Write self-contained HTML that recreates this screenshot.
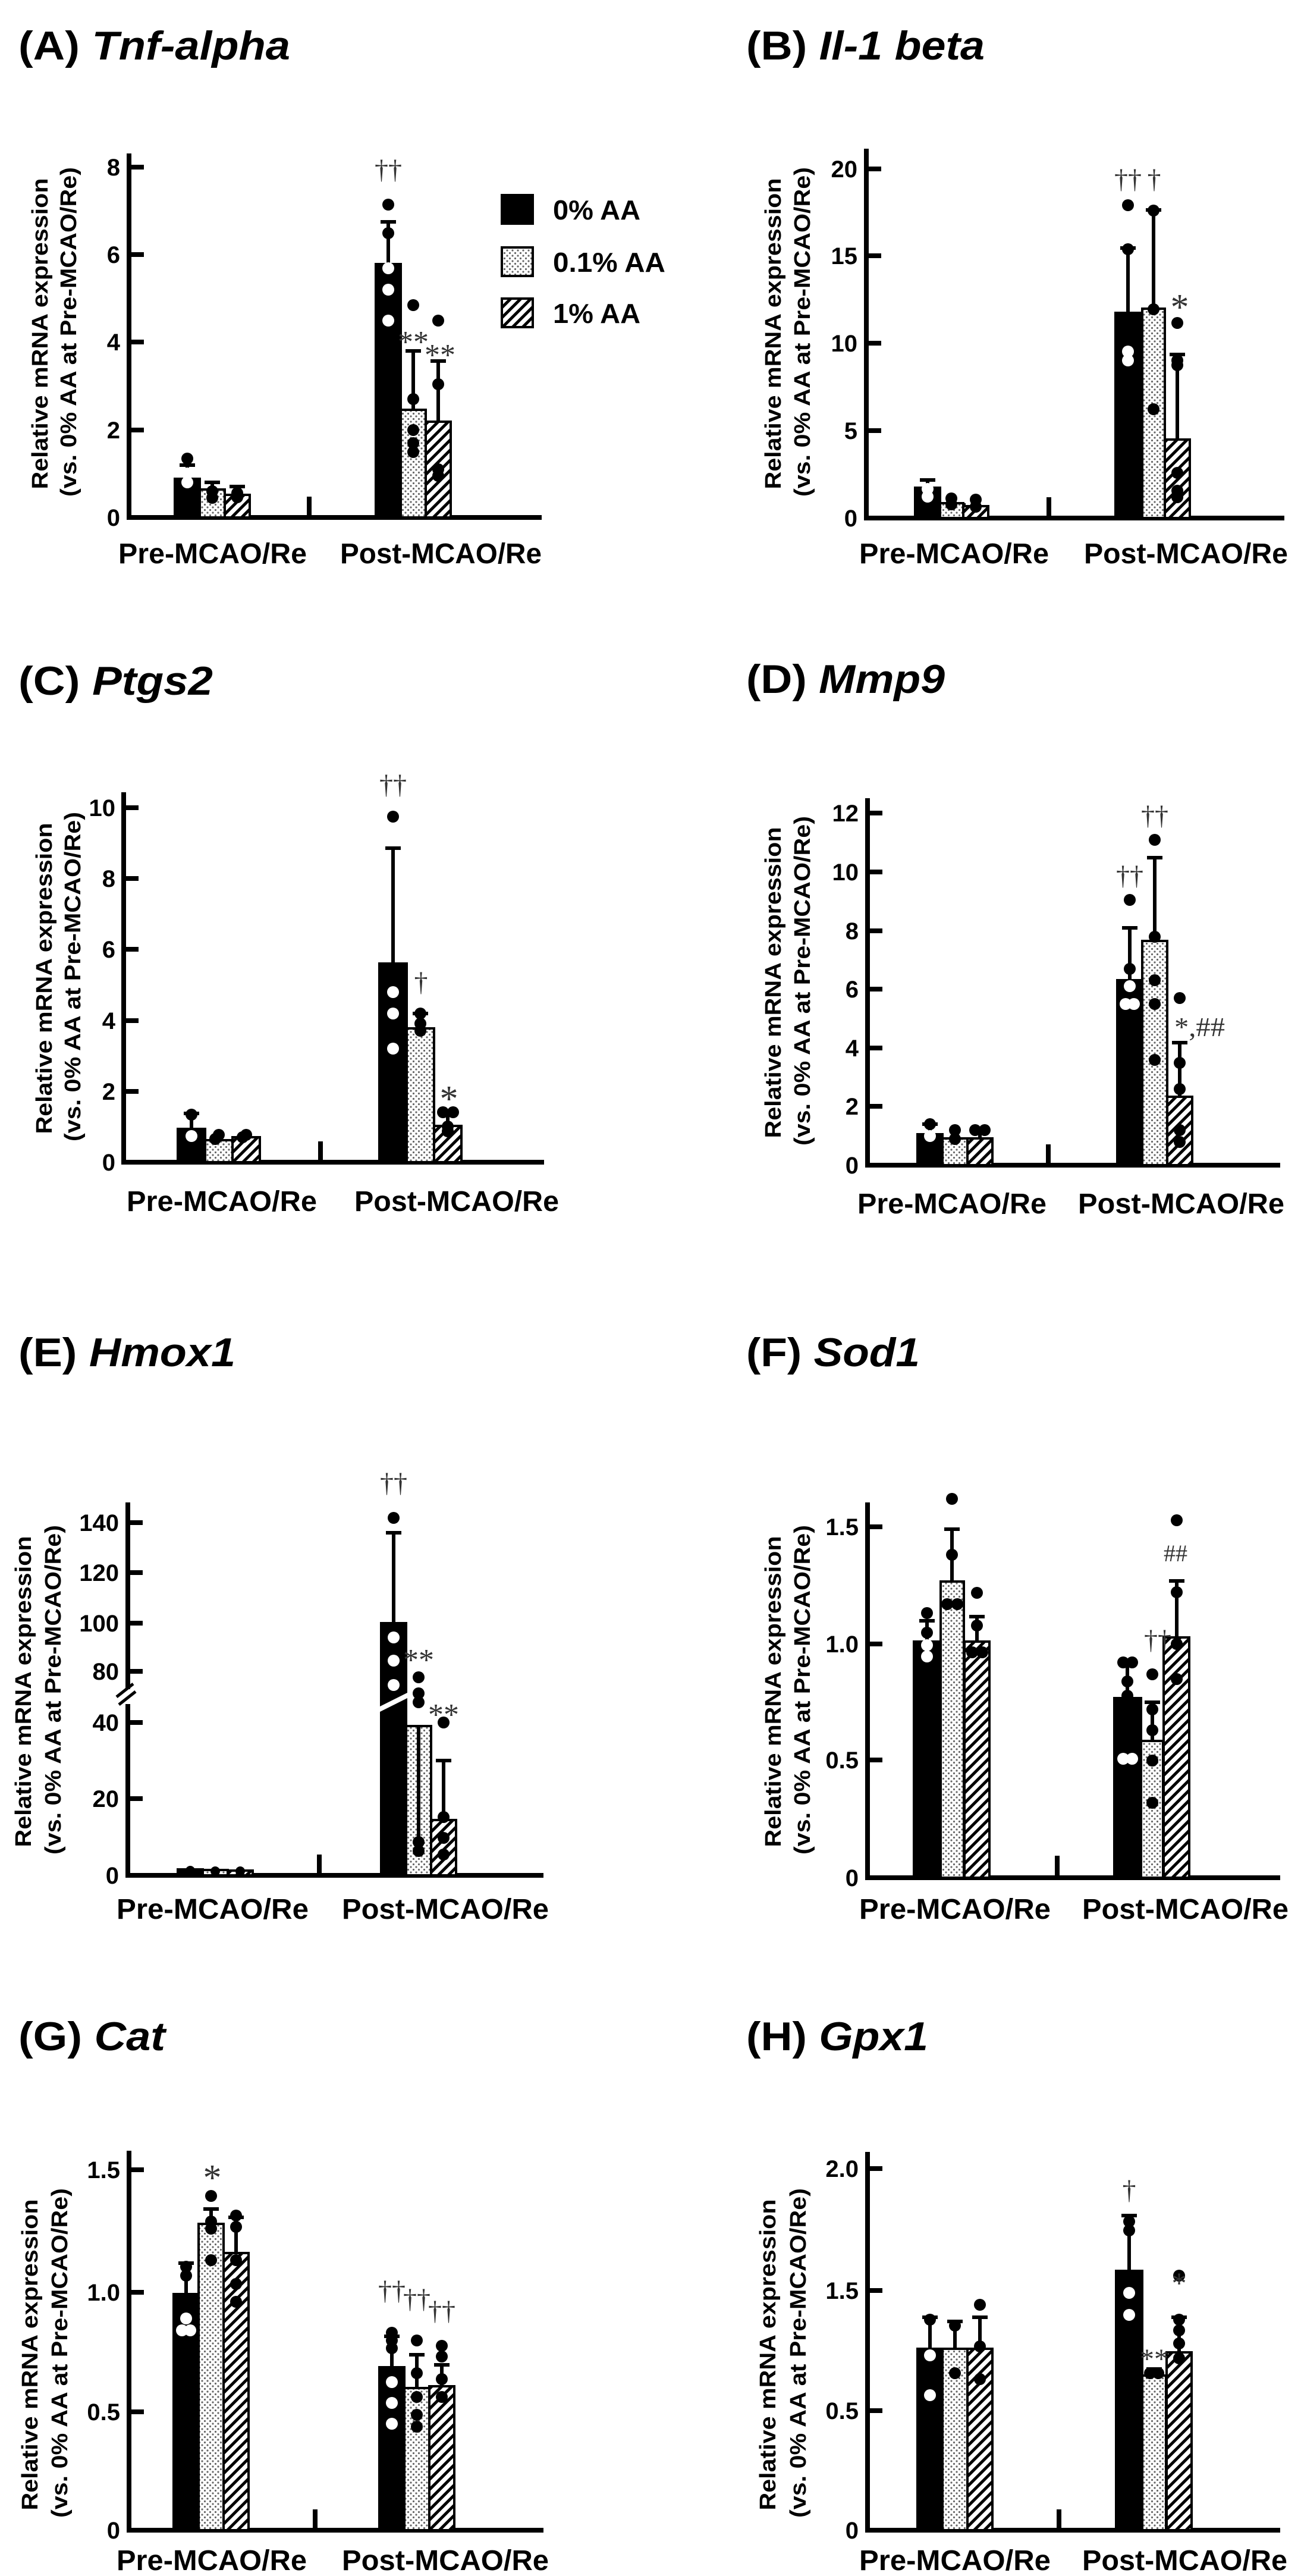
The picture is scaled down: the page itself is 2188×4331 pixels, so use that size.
<!DOCTYPE html>
<html><head><meta charset="utf-8"><style>
html,body{margin:0;padding:0;background:#fff}
svg{display:block}
text{font-family:"Liberation Sans",Arial,sans-serif;font-weight:bold;fill:#000}
.t{font-size:68px}
.tk{font-size:40px;text-anchor:end}
.xl{font-size:48px}
.yl{font-size:38px;text-anchor:middle}
.an{font-family:"Liberation Serif",serif;font-weight:normal;fill:#333}
.ax{stroke:#000;stroke-width:8;fill:none}
.e{stroke:#000;stroke-width:6}
.b0{fill:#000;stroke:#000;stroke-width:4}
.b1{fill:url(#dots);stroke:#000;stroke-width:4}
.b2{fill:url(#hatch);stroke:#000;stroke-width:4}
.k{fill:#000}.w{fill:#fff}
</style></head><body>
<svg width="2188" height="4331" viewBox="0 0 2188 4331" xmlns="http://www.w3.org/2000/svg">
<defs>
<pattern id="dots" width="9" height="9" patternUnits="userSpaceOnUse"><rect width="9" height="9" fill="#fff"/><circle cx="2.5" cy="2.5" r="1.6" fill="#666"/><circle cx="7" cy="7" r="1.6" fill="#666"/></pattern>
<pattern id="hatch" width="12" height="12" patternUnits="userSpaceOnUse" patternTransform="rotate(45)"><rect width="12" height="12" fill="#fff"/><rect x="0" y="0" width="5" height="12" fill="#000"/></pattern>
</defs>

<!-- ===== A ===== -->
<text class="t" x="31" y="100" textLength="457" lengthAdjust="spacingAndGlyphs">(A) <tspan font-style="italic">Tnf-alpha</tspan></text>
<text class="yl" transform="translate(80,561) rotate(-90)" textLength="523" lengthAdjust="spacingAndGlyphs">Relative mRNA expression</text>
<text class="yl" transform="translate(128,558) rotate(-90)" textLength="554" lengthAdjust="spacingAndGlyphs">(vs. 0% AA at Pre-MCAO/Re)</text>
<path class="ax" d="M217 258V870H911M217 281h25M217 428h25M217 575h25M217 723h25"/>
<rect x="516" y="835" width="8" height="35"/>
<text class="tk" x="202" y="295">8</text><text class="tk" x="202" y="442">6</text><text class="tk" x="202" y="589">4</text><text class="tk" x="202" y="737">2</text><text class="tk" x="202" y="884">0</text>
<text class="xl" x="199" y="947" textLength="317" lengthAdjust="spacingAndGlyphs">Pre-MCAO/Re</text>
<text class="xl" x="572" y="947" textLength="339" lengthAdjust="spacingAndGlyphs">Post-MCAO/Re</text>
<rect x="844" y="328" width="52" height="48" class="b0"/><rect x="844" y="416" width="52" height="48" class="b1" stroke-width="6"/><rect x="844" y="502" width="52" height="48" class="b2" stroke-width="6"/>
<text x="930" y="369" font-size="46" textLength="147" lengthAdjust="spacingAndGlyphs">0% AA</text>
<text x="930" y="457" font-size="46" textLength="189" lengthAdjust="spacingAndGlyphs">0.1% AA</text>
<text x="930" y="543" font-size="46" textLength="147" lengthAdjust="spacingAndGlyphs">1% AA</text>
<g>
<path class="e" d="M315 805V782M302 782h26M357 823V811M344 811h26M399 832V818M386 818h26M653 444V373M640 373h26M695 689V590M682 590h26M737 709V607M724 607h26"/>
<rect class="b0" x="294" y="805" width="42" height="65"/><rect class="b1" x="336" y="823" width="42" height="47"/><rect class="b2" x="378" y="832" width="42" height="38"/>
<rect class="b0" x="632" y="444" width="42" height="426"/><rect class="b1" x="674" y="689" width="42" height="181"/><rect class="b2" x="716" y="709" width="42" height="161"/>
<circle class="k" cx="315" cy="771" r="10"/><circle class="w" cx="315" cy="796" r="10"/><circle class="w" cx="315" cy="811" r="10"/>
<circle class="k" cx="357" cy="826" r="10"/><circle class="k" cx="357" cy="837" r="10"/><circle class="k" cx="399" cy="829" r="10"/><circle class="k" cx="399" cy="836" r="10"/>
<circle class="k" cx="653" cy="344" r="10"/><circle class="k" cx="653" cy="392" r="10"/><circle class="w" cx="653" cy="451" r="10"/><circle class="w" cx="653" cy="487" r="10"/><circle class="w" cx="653" cy="539" r="10"/>
<circle class="k" cx="695" cy="513" r="10"/><circle class="k" cx="695" cy="671" r="10"/><circle class="k" cx="695" cy="723" r="10"/><circle class="k" cx="695" cy="745" r="10"/><circle class="k" cx="695" cy="760" r="10"/>
<circle class="k" cx="737" cy="539" r="10"/><circle class="k" cx="737" cy="646" r="10"/><circle class="k" cx="737" cy="789" r="10"/><circle class="k" cx="737" cy="800" r="10"/>
<text class="an" x="653" y="300" font-size="46" text-anchor="middle">††</text>
<text class="an" x="695" y="592" font-size="52" text-anchor="middle">**</text>
<text class="an" x="740" y="614" font-size="52" text-anchor="middle">**</text>
</g>

<!-- ===== B ===== -->
<text class="t" x="1255" y="100" textLength="401" lengthAdjust="spacingAndGlyphs">(B) <tspan font-style="italic">Il-1 beta</tspan></text>
<text class="yl" transform="translate(1313,561) rotate(-90)" textLength="523" lengthAdjust="spacingAndGlyphs">Relative mRNA expression</text>
<text class="yl" transform="translate(1362,558) rotate(-90)" textLength="554" lengthAdjust="spacingAndGlyphs">(vs. 0% AA at Pre-MCAO/Re)</text>
<path class="ax" d="M1457 250V871H2160M1457 284h25M1457 430h25M1457 577h25M1457 724h25"/>
<rect x="1760" y="836" width="8" height="35"/>
<text class="tk" x="1442" y="298">20</text><text class="tk" x="1442" y="444">15</text><text class="tk" x="1442" y="591">10</text><text class="tk" x="1442" y="738">5</text><text class="tk" x="1442" y="885">0</text>
<text class="xl" x="1445" y="947" textLength="319" lengthAdjust="spacingAndGlyphs">Pre-MCAO/Re</text>
<text class="xl" x="1823" y="947" textLength="343" lengthAdjust="spacingAndGlyphs">Post-MCAO/Re</text>
<path class="e" d="M1560 820V807M1547 807h26M1600 846V840M1621 851V846M1897 526V417M1884 417h26M1940 519V353M1927 353h26M1980 739V596M1967 596h26"/>
<rect class="b0" x="1539" y="820" width="42" height="51"/><rect class="b1" x="1581" y="846" width="39" height="25"/><rect class="b2" x="1620" y="851" width="42" height="20"/>
<rect class="b0" x="1876" y="526" width="43" height="345"/><rect class="b1" x="1921" y="519" width="38" height="352"/><rect class="b2" x="1959" y="739" width="42" height="132"/>
<circle class="w" cx="1560" cy="822" r="10"/><circle class="w" cx="1560" cy="835" r="10"/><circle class="k" cx="1600" cy="838" r="10"/><circle class="k" cx="1600" cy="848" r="10"/><circle class="k" cx="1641" cy="840" r="10"/><circle class="k" cx="1641" cy="852" r="10"/>
<circle class="k" cx="1897" cy="345" r="10"/><circle class="k" cx="1897" cy="419" r="10"/><circle class="w" cx="1897" cy="591" r="10"/><circle class="w" cx="1897" cy="606" r="10"/>
<circle class="k" cx="1940" cy="354" r="10"/><circle class="k" cx="1940" cy="520" r="10"/><circle class="k" cx="1940" cy="688" r="10"/>
<circle class="k" cx="1980" cy="543" r="10"/><circle class="k" cx="1980" cy="606" r="10"/><circle class="k" cx="1980" cy="614" r="10"/><circle class="k" cx="1980" cy="795" r="10"/><circle class="k" cx="1980" cy="825" r="10"/><circle class="k" cx="1980" cy="836" r="10"/>
<text class="an" x="1897" y="316" font-size="46" text-anchor="middle">††</text>
<text class="an" x="1941" y="316" font-size="46" text-anchor="middle">†</text>
<text class="an" x="1984" y="537" font-size="62" text-anchor="middle" fill="#000">*</text>

<!-- ===== C ===== -->
<text class="t" x="31" y="1168" textLength="327" lengthAdjust="spacingAndGlyphs">(C) <tspan font-style="italic">Ptgs2</tspan></text>
<text class="yl" transform="translate(87,1645) rotate(-90)" textLength="523" lengthAdjust="spacingAndGlyphs">Relative mRNA expression</text>
<text class="yl" transform="translate(135,1642) rotate(-90)" textLength="554" lengthAdjust="spacingAndGlyphs">(vs. 0% AA at Pre-MCAO/Re)</text>
<path class="ax" d="M208 1332V1954H915M208 1358h25M208 1477h25M208 1596h25M208 1716h25M208 1835h25"/>
<rect x="535" y="1919" width="8" height="35"/>
<text class="tk" x="194" y="1372">10</text><text class="tk" x="194" y="1491">8</text><text class="tk" x="194" y="1610">6</text><text class="tk" x="194" y="1730">4</text><text class="tk" x="194" y="1849">2</text><text class="tk" x="194" y="1968">0</text>
<text class="xl" x="213" y="2036" textLength="320" lengthAdjust="spacingAndGlyphs">Pre-MCAO/Re</text>
<text class="xl" x="596" y="2036" textLength="344" lengthAdjust="spacingAndGlyphs">Post-MCAO/Re</text>
<path class="e" d="M322 1898V1872M309 1872h26M368 1917V1905M414 1912V1905M661 1620V1426M648 1426h26M707 1729V1704M694 1704h26M753 1893V1870M740 1870h26"/>
<rect class="b0" x="299" y="1898" width="46" height="56"/><rect class="b1" x="345" y="1917" width="46" height="37"/><rect class="b2" x="391" y="1912" width="46" height="42"/>
<rect class="b0" x="638" y="1620" width="46" height="334"/><rect class="b1" x="684" y="1729" width="46" height="225"/><rect class="b2" x="730" y="1893" width="46" height="61"/>
<circle class="k" cx="322" cy="1874" r="10"/><circle class="w" cx="322" cy="1910" r="10"/><circle class="k" cx="368" cy="1908" r="10"/><circle class="k" cx="362" cy="1915" r="10"/><circle class="k" cx="414" cy="1908" r="10"/><circle class="k" cx="408" cy="1912" r="10"/>
<circle class="k" cx="661" cy="1373" r="10"/><circle class="w" cx="661" cy="1668" r="10"/><circle class="w" cx="661" cy="1704" r="10"/><circle class="w" cx="661" cy="1763" r="10"/>
<circle class="k" cx="707" cy="1704" r="10"/><circle class="k" cx="707" cy="1721" r="10"/><circle class="k" cx="707" cy="1733" r="10"/>
<circle class="k" cx="745" cy="1870" r="10"/><circle class="k" cx="762" cy="1870" r="10"/><circle class="k" cx="753" cy="1894" r="10"/><circle class="k" cx="753" cy="1902" r="10"/>
<text class="an" x="661" y="1334" font-size="46" text-anchor="middle">††</text>
<text class="an" x="708" y="1666" font-size="46" text-anchor="middle">†</text>
<text class="an" x="755" y="1868" font-size="62" text-anchor="middle" fill="#000">*</text>

<!-- ===== D ===== -->
<text class="t" x="1255" y="1165" textLength="334" lengthAdjust="spacingAndGlyphs">(D) <tspan font-style="italic">Mmp9</tspan></text>
<text class="yl" transform="translate(1313,1652) rotate(-90)" textLength="523" lengthAdjust="spacingAndGlyphs">Relative mRNA expression</text>
<text class="yl" transform="translate(1362,1649) rotate(-90)" textLength="554" lengthAdjust="spacingAndGlyphs">(vs. 0% AA at Pre-MCAO/Re)</text>
<path class="ax" d="M1459 1342V1959H2153M1459 1367h25M1459 1466h25M1459 1565h25M1459 1663h25M1459 1762h25M1459 1860h25"/>
<rect x="1759" y="1924" width="8" height="35"/>
<text class="tk" x="1444" y="1381">12</text><text class="tk" x="1444" y="1480">10</text><text class="tk" x="1444" y="1579">8</text><text class="tk" x="1444" y="1677">6</text><text class="tk" x="1444" y="1776">4</text><text class="tk" x="1444" y="1874">2</text><text class="tk" x="1444" y="1973">0</text>
<text class="xl" x="1442" y="2040" textLength="318" lengthAdjust="spacingAndGlyphs">Pre-MCAO/Re</text>
<text class="xl" x="1813" y="2040" textLength="347" lengthAdjust="spacingAndGlyphs">Post-MCAO/Re</text>
<path class="e" d="M1564 1907V1890M1551 1890h26M1606 1914V1900M1648 1914V1900M1900 1648V1560M1887 1560h26M1942 1582V1442M1929 1442h26M1984 1844V1753M1971 1753h26"/>
<rect class="b0" x="1543" y="1907" width="42" height="52"/><rect class="b1" x="1585" y="1914" width="42" height="45"/><rect class="b2" x="1627" y="1914" width="42" height="45"/>
<rect class="b0" x="1879" y="1648" width="42" height="311"/><rect class="b1" x="1921" y="1582" width="42" height="377"/><rect class="b2" x="1963" y="1844" width="42" height="115"/>
<circle class="k" cx="1564" cy="1890" r="10"/><circle class="w" cx="1564" cy="1910" r="10"/><circle class="k" cx="1606" cy="1900" r="10"/><circle class="k" cx="1606" cy="1915" r="10"/><circle class="k" cx="1640" cy="1900" r="10"/><circle class="k" cx="1656" cy="1900" r="10"/>
<circle class="k" cx="1900" cy="1513" r="10"/><circle class="k" cx="1900" cy="1629" r="10"/><circle class="w" cx="1900" cy="1658" r="10"/><circle class="w" cx="1893" cy="1688" r="10"/><circle class="w" cx="1907" cy="1688" r="10"/>
<circle class="k" cx="1942" cy="1412" r="10"/><circle class="k" cx="1942" cy="1575" r="10"/><circle class="k" cx="1942" cy="1648" r="10"/><circle class="k" cx="1942" cy="1688" r="10"/><circle class="k" cx="1942" cy="1782" r="10"/>
<circle class="k" cx="1984" cy="1678" r="10"/><circle class="k" cx="1984" cy="1787" r="10"/><circle class="k" cx="1984" cy="1831" r="10"/><circle class="k" cx="1984" cy="1900" r="10"/><circle class="k" cx="1984" cy="1920" r="10"/>
<text class="an" x="1900" y="1487" font-size="46" text-anchor="middle">††</text>
<text class="an" x="1942" y="1386" font-size="46" text-anchor="middle">††</text>
<text class="an" x="1975" y="1742" font-size="46" textLength="85" lengthAdjust="spacingAndGlyphs" fill="#000">*,##</text>

<!-- ===== E ===== -->
<text class="t" x="31" y="2297" textLength="365" lengthAdjust="spacingAndGlyphs">(E) <tspan font-style="italic">Hmox1</tspan></text>
<text class="yl" transform="translate(52,2844) rotate(-90)" textLength="523" lengthAdjust="spacingAndGlyphs">Relative mRNA expression</text>
<text class="yl" transform="translate(102,2841) rotate(-90)" textLength="554" lengthAdjust="spacingAndGlyphs">(vs. 0% AA at Pre-MCAO/Re)</text>
<path class="ax" d="M215 2526V2840M215 2865V3153H914M215 2560h25M215 2644h25M215 2729h25M215 2810h25M215 2896h25M215 3024h25"/>
<path d="M196 2853L224 2831M200 2866L228 2844" stroke="#000" stroke-width="5"/>
<rect x="533" y="3118" width="8" height="35"/>
<text class="tk" x="200" y="2574">140</text><text class="tk" x="200" y="2658">120</text><text class="tk" x="200" y="2743">100</text><text class="tk" x="200" y="2824">80</text><text class="tk" x="200" y="2910">40</text><text class="tk" x="200" y="3038">20</text><text class="tk" x="200" y="3167">0</text>
<text class="xl" x="196" y="3226" textLength="323" lengthAdjust="spacingAndGlyphs">Pre-MCAO/Re</text>
<text class="xl" x="575" y="3226" textLength="348" lengthAdjust="spacingAndGlyphs">Post-MCAO/Re</text>
<path class="e" d="M662 2729V2577M649 2577h26M746 3060V2960M733 2960h26"/>
<rect class="b0" x="299" y="3143" width="42" height="10"/><rect class="b1" x="341" y="3144" width="42" height="9"/><rect class="b2" x="383" y="3145" width="42" height="8"/>
<circle class="k" cx="320" cy="3145" r="8"/><circle class="k" cx="362" cy="3146" r="8"/><circle class="k" cx="404" cy="3146" r="8"/>
<rect class="b0" x="641" y="2729" width="42" height="424"/><rect class="b1" x="683" y="2902" width="42" height="251"/><rect class="b2" x="725" y="3060" width="42" height="93"/>
<path d="M630 2878L690 2848" stroke="#fff" stroke-width="8"/>
<path class="e" d="M704 2902V3100"/>
<circle class="k" cx="662" cy="2552" r="10"/><circle class="w" cx="662" cy="2753" r="10"/><circle class="w" cx="662" cy="2792" r="10"/><circle class="w" cx="662" cy="2833" r="10"/>
<circle class="k" cx="704" cy="2820" r="10"/><circle class="k" cx="704" cy="2847" r="10"/><circle class="k" cx="704" cy="2862" r="10"/><circle class="k" cx="704" cy="3097" r="10"/><circle class="k" cx="704" cy="3112" r="10"/>
<circle class="k" cx="746" cy="2896" r="10"/><circle class="k" cx="746" cy="3055" r="10"/><circle class="k" cx="746" cy="3090" r="10"/><circle class="k" cx="746" cy="3118" r="10"/>
<text class="an" x="662" y="2508" font-size="46" text-anchor="middle">††</text>
<text class="an" x="704" y="2808" font-size="52" text-anchor="middle">**</text>
<text class="an" x="746" y="2900" font-size="52" text-anchor="middle">**</text>

<!-- ===== F ===== -->
<text class="t" x="1255" y="2297" textLength="292" lengthAdjust="spacingAndGlyphs">(F) <tspan font-style="italic">Sod1</tspan></text>
<text class="yl" transform="translate(1313,2844) rotate(-90)" textLength="523" lengthAdjust="spacingAndGlyphs">Relative mRNA expression</text>
<text class="yl" transform="translate(1362,2841) rotate(-90)" textLength="554" lengthAdjust="spacingAndGlyphs">(vs. 0% AA at Pre-MCAO/Re)</text>
<path class="ax" d="M1459 2526V3157H2153M1459 2567h25M1459 2764h25M1459 2959h25"/>
<rect x="1774" y="3120" width="8" height="37"/>
<text class="tk" x="1444" y="2581">1.5</text><text class="tk" x="1444" y="2778">1.0</text><text class="tk" x="1444" y="2973">0.5</text><text class="tk" x="1444" y="3171">0</text>
<text class="xl" x="1445" y="3226" textLength="322" lengthAdjust="spacingAndGlyphs">Pre-MCAO/Re</text>
<text class="xl" x="1820" y="3226" textLength="347" lengthAdjust="spacingAndGlyphs">Post-MCAO/Re</text>
<path class="e" d="M1559 2760V2725M1546 2725h26M1601 2659V2571M1588 2571h26M1643 2763V2718M1630 2718h26M1896 2858V2795M1883 2795h26M1938 2930V2862M1925 2862h26M1979 2756V2658M1966 2658h26"/>
<rect class="b0" x="1537" y="2760" width="45" height="397"/><rect class="b1" x="1582" y="2659" width="39" height="498"/><rect class="b2" x="1622" y="2760" width="42" height="397"/>
<rect class="b0" x="1874" y="2855" width="45" height="302"/><rect class="b1" x="1919" y="2927" width="37" height="230"/><rect class="b2" x="1957" y="2753" width="43" height="404"/>
<circle class="k" cx="1559" cy="2712" r="10"/><circle class="k" cx="1559" cy="2745" r="10"/><circle class="w" cx="1559" cy="2766" r="10"/><circle class="w" cx="1559" cy="2785" r="10"/>
<circle class="k" cx="1601" cy="2520" r="10"/><circle class="k" cx="1601" cy="2614" r="10"/><circle class="k" cx="1593" cy="2697" r="10"/><circle class="k" cx="1610" cy="2697" r="10"/>
<circle class="k" cx="1643" cy="2678" r="10"/><circle class="k" cx="1643" cy="2733" r="10"/><circle class="k" cx="1635" cy="2778" r="10"/><circle class="k" cx="1652" cy="2778" r="10"/>
<circle class="k" cx="1889" cy="2795" r="10"/><circle class="k" cx="1904" cy="2795" r="10"/><circle class="k" cx="1896" cy="2827" r="10"/><circle class="k" cx="1896" cy="2851" r="10"/><circle class="w" cx="1889" cy="2957" r="10"/><circle class="w" cx="1904" cy="2957" r="10"/>
<circle class="k" cx="1938" cy="2815" r="10"/><circle class="k" cx="1938" cy="2874" r="10"/><circle class="k" cx="1938" cy="2909" r="10"/><circle class="k" cx="1938" cy="2960" r="10"/><circle class="k" cx="1938" cy="3031" r="10"/>
<circle class="k" cx="1979" cy="2556" r="10"/><circle class="k" cx="1979" cy="2677" r="10"/><circle class="k" cx="1979" cy="2764" r="10"/><circle class="k" cx="1979" cy="2823" r="10"/>
<text class="an" x="1947" y="2772" font-size="46" text-anchor="middle">††</text>
<text class="an" x="1977" y="2625" font-size="40" text-anchor="middle">##</text>

<!-- ===== G ===== -->
<text class="t" x="31" y="3447" textLength="247" lengthAdjust="spacingAndGlyphs">(G) <tspan font-style="italic">Cat</tspan></text>
<text class="yl" transform="translate(63,3959) rotate(-90)" textLength="523" lengthAdjust="spacingAndGlyphs">Relative mRNA expression</text>
<text class="yl" transform="translate(113,3956) rotate(-90)" textLength="554" lengthAdjust="spacingAndGlyphs">(vs. 0% AA at Pre-MCAO/Re)</text>
<path class="ax" d="M217 3616V4254H914M217 3648h25M217 3854h25M217 4055h25"/>
<rect x="526" y="4219" width="8" height="35"/>
<text class="tk" x="202" y="3662">1.5</text><text class="tk" x="202" y="3868">1.0</text><text class="tk" x="202" y="4069">0.5</text><text class="tk" x="202" y="4268">0</text>
<text class="xl" x="196" y="4321" textLength="320" lengthAdjust="spacingAndGlyphs">Pre-MCAO/Re</text>
<text class="xl" x="575" y="4321" textLength="348" lengthAdjust="spacingAndGlyphs">Post-MCAO/Re</text>
<path class="e" d="M313 3857V3805M300 3805h26M355 3739V3714M342 3714h26M397 3788V3728M384 3728h26M659 3980V3928M646 3928h26M701 4015V3959M688 3959h26M743 4012V3976M730 3976h26"/>
<rect class="b0" x="292" y="3857" width="42" height="397"/><rect class="b1" x="334" y="3739" width="42" height="515"/><rect class="b2" x="376" y="3788" width="42" height="466"/>
<rect class="b0" x="638" y="3980" width="42" height="274"/><rect class="b1" x="680" y="4015" width="42" height="239"/><rect class="b2" x="722" y="4012" width="42" height="242"/>
<circle class="k" cx="313" cy="3811" r="10"/><circle class="k" cx="313" cy="3826" r="10"/><circle class="w" cx="313" cy="3898" r="10"/><circle class="w" cx="306" cy="3918" r="10"/><circle class="w" cx="320" cy="3918" r="10"/>
<circle class="k" cx="355" cy="3692" r="10"/><circle class="k" cx="355" cy="3735" r="10"/><circle class="k" cx="355" cy="3747" r="10"/><circle class="k" cx="355" cy="3800" r="10"/>
<circle class="k" cx="397" cy="3725" r="10"/><circle class="k" cx="397" cy="3744" r="10"/><circle class="k" cx="397" cy="3800" r="10"/><circle class="k" cx="397" cy="3840" r="10"/><circle class="k" cx="397" cy="3870" r="10"/>
<circle class="k" cx="659" cy="3922" r="10"/><circle class="k" cx="659" cy="3935" r="10"/><circle class="k" cx="659" cy="3948" r="10"/><circle class="w" cx="659" cy="4005" r="10"/><circle class="w" cx="659" cy="4040" r="10"/><circle class="w" cx="659" cy="4075" r="10"/>
<circle class="k" cx="701" cy="3935" r="10"/><circle class="k" cx="701" cy="3990" r="10"/><circle class="k" cx="701" cy="4030" r="10"/><circle class="k" cx="701" cy="4060" r="10"/><circle class="k" cx="701" cy="4080" r="10"/>
<circle class="k" cx="743" cy="3944" r="10"/><circle class="k" cx="743" cy="3962" r="10"/><circle class="k" cx="743" cy="4000" r="10"/><circle class="k" cx="743" cy="4030" r="10"/>
<text class="an" x="357" y="3682" font-size="62" text-anchor="middle" fill="#000">*</text>
<text class="an" x="659" y="3866" font-size="46" text-anchor="middle">††</text>
<text class="an" x="701" y="3880" font-size="46" text-anchor="middle">††</text>
<text class="an" x="743" y="3900" font-size="46" text-anchor="middle">††</text>

<!-- ===== H ===== -->
<text class="t" x="1255" y="3447" textLength="306" lengthAdjust="spacingAndGlyphs">(H) <tspan font-style="italic">Gpx1</tspan></text>
<text class="yl" transform="translate(1304,3959) rotate(-90)" textLength="523" lengthAdjust="spacingAndGlyphs">Relative mRNA expression</text>
<text class="yl" transform="translate(1355,3956) rotate(-90)" textLength="554" lengthAdjust="spacingAndGlyphs">(vs. 0% AA at Pre-MCAO/Re)</text>
<path class="ax" d="M1459 3618V4254H2153M1459 3646h25M1459 3851h25M1459 4053h25"/>
<rect x="1777" y="4219" width="8" height="35"/>
<text class="tk" x="1444" y="3660">2.0</text><text class="tk" x="1444" y="3865">1.5</text><text class="tk" x="1444" y="4067">0.5</text><text class="tk" x="1444" y="4268">0</text>
<text class="xl" x="1445" y="4321" textLength="322" lengthAdjust="spacingAndGlyphs">Pre-MCAO/Re</text>
<text class="xl" x="1820" y="4321" textLength="345" lengthAdjust="spacingAndGlyphs">Post-MCAO/Re</text>
<path class="e" d="M1564 3949V3896M1551 3896h26M1606 3949V3903M1593 3903h26M1648 3949V3896M1635 3896h26M1899 3823V3725M1886 3725h26M1941 3994V3983M1928 3983h26M1983 3955V3896M1970 3896h26"/>
<rect class="b0" x="1543" y="3949" width="42" height="305"/><rect class="b1" x="1585" y="3949" width="42" height="305"/><rect class="b2" x="1627" y="3949" width="42" height="305"/>
<rect class="b0" x="1877" y="3818" width="44" height="436"/><rect class="b1" x="1921" y="3994" width="40" height="260"/><rect class="b2" x="1962" y="3955" width="42" height="299"/>
<circle class="k" cx="1564" cy="3900" r="10"/><circle class="w" cx="1564" cy="3960" r="10"/><circle class="w" cx="1564" cy="4027" r="10"/>
<circle class="k" cx="1606" cy="3910" r="10"/><circle class="k" cx="1606" cy="3990" r="10"/>
<circle class="k" cx="1648" cy="3875" r="10"/><circle class="k" cx="1648" cy="3945" r="10"/><circle class="k" cx="1648" cy="4000" r="10"/>
<circle class="k" cx="1899" cy="3735" r="10"/><circle class="k" cx="1899" cy="3750" r="10"/><circle class="w" cx="1899" cy="3855" r="10"/><circle class="w" cx="1899" cy="3892" r="10"/>
<circle class="k" cx="1934" cy="3990" r="10"/><circle class="k" cx="1948" cy="3990" r="10"/>
<circle class="k" cx="1983" cy="3826" r="10"/><circle class="k" cx="1983" cy="3900" r="10"/><circle class="k" cx="1983" cy="3918" r="10"/><circle class="k" cx="1983" cy="3940" r="10"/><circle class="k" cx="1983" cy="3965" r="10"/>
<text class="an" x="1899" y="3697" font-size="46" text-anchor="middle">†</text>
<text class="an" x="1941" y="3982" font-size="48" text-anchor="middle">**</text>
<text class="an" x="1983" y="3855" font-size="50" text-anchor="middle" fill="#000">*</text>
</svg>
</body></html>
